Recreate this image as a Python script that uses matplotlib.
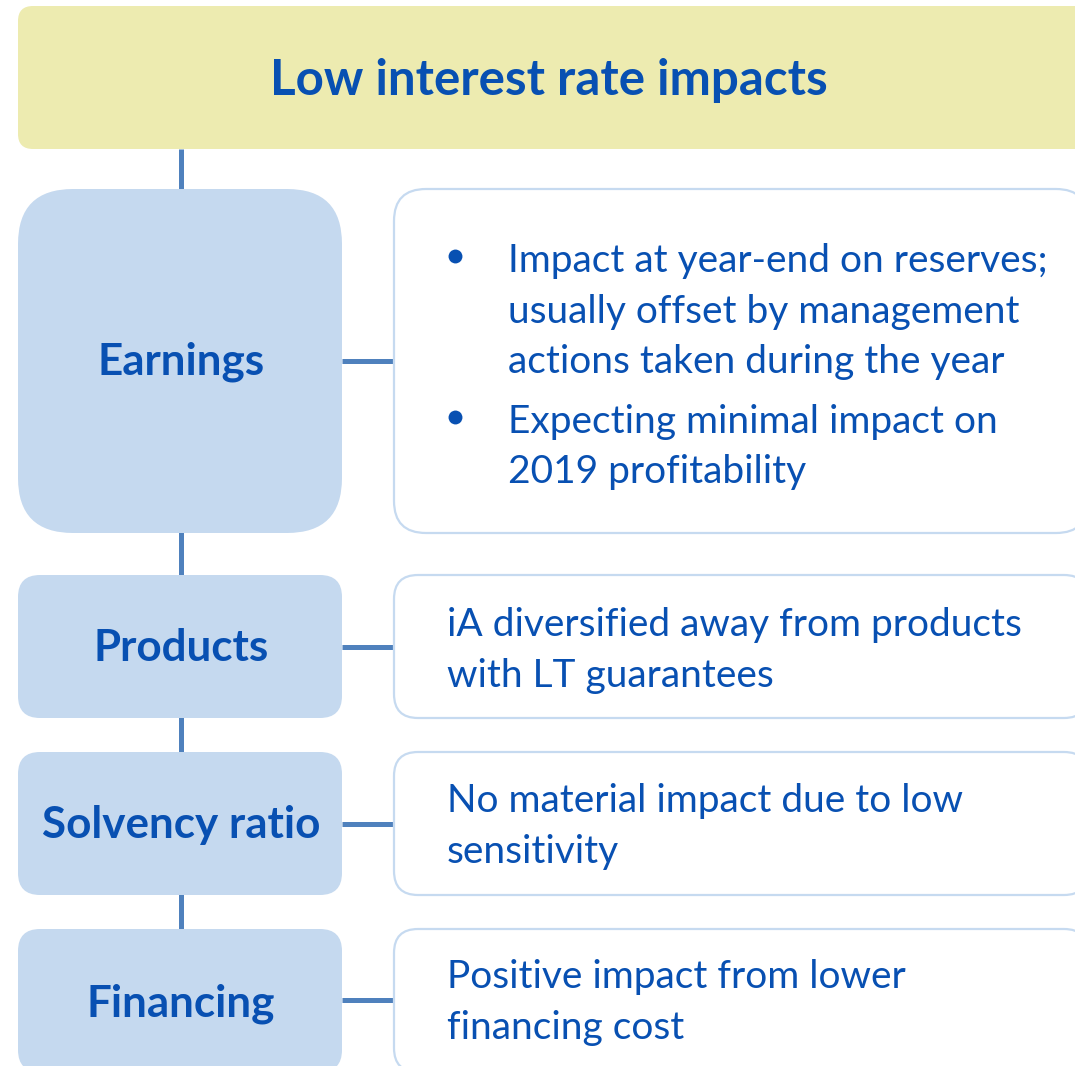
import matplotlib
matplotlib.use("Agg")
import matplotlib.pyplot as plt
from matplotlib.patches import FancyBboxPatch

# DATA #######################################################################
title = "Low interest rate impacts"
categories = ["Earnings", "Products", "Solvency ratio", "Financing"]
details = [
    [["Impact at year-end on reserves;", "usually offset by management",
      "actions taken during the year"],
     ["Expecting minimal impact on", "2019 profitability"]],
    [["iA diversified away from products", "with LT guarantees"]],
    [["No material impact due to low", "sensitivity"]],
    [["Positive impact from lower", "financing cost"]],
]
bulleted = [True, False, False, False]

# LAYOUT (pixels) ############################################################
W, H = 1075, 1066
box_tops = [189, 575, 752, 929]
box_bottoms = [533, 718, 895, 1072]
left_radius = [55, 22, 22, 22]
right_radius = [32, 24, 24, 24]
label_baselines = [375, 661, 838, 1016]
first_baselines = [272, 636, 812, 988]
line_step = 50.5
bullet_gap = 9

FONT = "Lato"
text_col = "#0850B2"
blue_fill = "#C5D9EF"
yellow_fill = "#EDEBB0"
conn_col = "#4F81BD"
edge_col = "#C6DAF0"

fig = plt.figure(figsize=(W / 100, H / 100), dpi=100)
ax = fig.add_axes([0, 0, 1, 1])
ax.set_xlim(0, W)
ax.set_ylim(H, 0)
ax.axis("off")
renderer = fig.canvas.get_renderer()


def fit_size(s, width, weight):
    # find fontsize (pt) giving the wanted pixel width
    t = ax.text(0, 0, s, fontsize=20, family=FONT, weight=weight)
    w = t.get_window_extent(renderer).width
    t.remove()
    return 20 * width / w


title_fs = fit_size(title, 558, "bold")
label_fs = fit_size("Solvency ratio", 278, "bold")
body_fs = fit_size("iA diversified away from products", 576, "normal")

# connectors
ax.plot([180.5, 180.5], [149, box_tops[-1]], color=conn_col, lw=3.6,
        solid_capstyle="butt", zorder=1)
for top, bot in zip(box_tops, box_bottoms):
    yc = (top + bot) / 2 if bot < H else 1000
    ax.plot([342, 393], [yc, yc], color=conn_col, lw=3.6,
            solid_capstyle="butt", zorder=1)

# header
ax.add_patch(FancyBboxPatch((18, 6), 1090 - 18, 143,
                            boxstyle="round,pad=0,rounding_size=15",
                            fc=yellow_fill, ec="none", zorder=2))
ax.text(549, 95, title, fontsize=title_fs, family=FONT, weight="bold",
        color=text_col, ha="center", va="baseline", zorder=3)

for i, cat in enumerate(categories):
    top, bot = box_tops[i], box_bottoms[i]
    ax.add_patch(FancyBboxPatch((18, top), 342 - 18, bot - top,
                                boxstyle=f"round,pad=0,rounding_size={left_radius[i]}",
                                fc=blue_fill, ec="none", zorder=2))
    ax.add_patch(FancyBboxPatch((394, top), 1088 - 394, bot - top,
                                boxstyle=f"round,pad=0,rounding_size={right_radius[i]}",
                                fc="white", ec=edge_col, lw=1.6, zorder=2))
    ax.text(181, label_baselines[i], cat, fontsize=label_fs, family=FONT,
            weight="bold", color=text_col, ha="center", va="baseline", zorder=3)

    y = first_baselines[i]
    for para in details[i]:
        if bulleted[i]:
            ax.plot(455, y - 16, "o", ms=10, color=text_col, mec="none", zorder=3)
            x0 = 508
        else:
            x0 = 447
        for line in para:
            ax.text(x0, y, line, fontsize=body_fs, family=FONT, color=text_col,
                    ha="left", va="baseline", zorder=3)
            y += line_step
        y += bullet_gap

fig.savefig("out.png", dpi=100)
